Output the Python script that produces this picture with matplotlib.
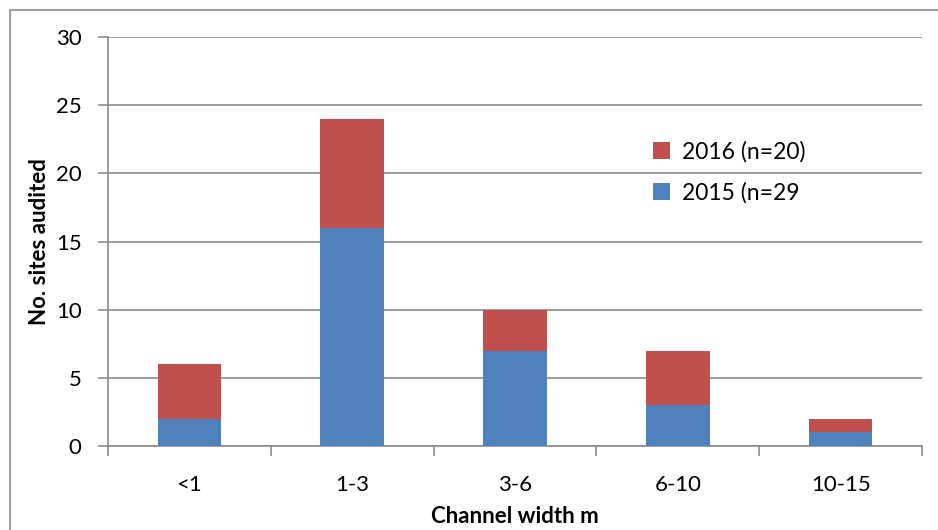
import numpy as np
import matplotlib.pyplot as plt
from matplotlib.patches import Rectangle

categories = ["<1", "1-3", "3-6", "6-10", "10-15"]
sites_2015 = [2, 16, 7, 3, 1]
sites_2016 = [4, 8, 3, 4, 1]

plt.rcParams['font.family'] = ['Lato', 'DejaVu Sans']

fig = plt.figure(figsize=(9.38, 5.30), dpi=100)
ax = fig.add_axes([108 / 938, 1 - 446 / 530, (922 - 108) / 938, (446 - 37) / 530])

# outer chart border
fig.patches.append(Rectangle((10 / 938, -0.1), 1.2, 1 - 10 / 530 + 0.1,
                             transform=fig.transFigure, fill=False,
                             edgecolor='#8c8c8c', linewidth=1.2))

x = np.arange(len(categories))
ax.bar(x, sites_2015, width=0.39, color='#4F81BD', label='2015 (n=29', zorder=3)
ax.bar(x, sites_2016, width=0.39, bottom=sites_2015, color='#C0504D',
       label='2016 (n=20)', zorder=3)

ax.set_xlim(-0.5, len(categories) - 0.5)
ax.set_ylim(0, 30)
ax.set_yticks(range(0, 31, 5))
ax.yaxis.grid(True, color='#8c8c8c', linewidth=1.2, zorder=0)

ax.set_xticks(x)
ax.set_xticklabels(categories, fontsize=16)
ax.tick_params(axis='x', length=0, pad=21)
# category boundary ticks
ax.set_xticks(np.arange(-0.5, len(categories)), minor=True)
ax.tick_params(axis='x', which='minor', length=7, color='#8c8c8c', width=1.2)
ax.tick_params(axis='y', labelsize=16, length=7, color='#8c8c8c', width=1.2, pad=12)

for side in ['top', 'right']:
    ax.spines[side].set_visible(False)
for side in ['left', 'bottom']:
    ax.spines[side].set_color('#8c8c8c')
    ax.spines[side].set_linewidth(1.2)

ax.set_xlabel('Channel width m', fontsize=16, fontweight='bold', labelpad=8)
ax.set_ylabel('No. sites audited', fontsize=16, fontweight='bold', labelpad=4)

handles, labels = ax.get_legend_handles_labels()
ax.legend(handles[::-1], labels[::-1], loc='upper left', bbox_to_anchor=(0.6695, 0.745),
          frameon=False, fontsize=16.5, handlelength=0.75, handleheight=0.75,
          labelspacing=0.85, handletextpad=0.5, borderpad=0, borderaxespad=0)

fig.savefig('out.png', dpi=100)
